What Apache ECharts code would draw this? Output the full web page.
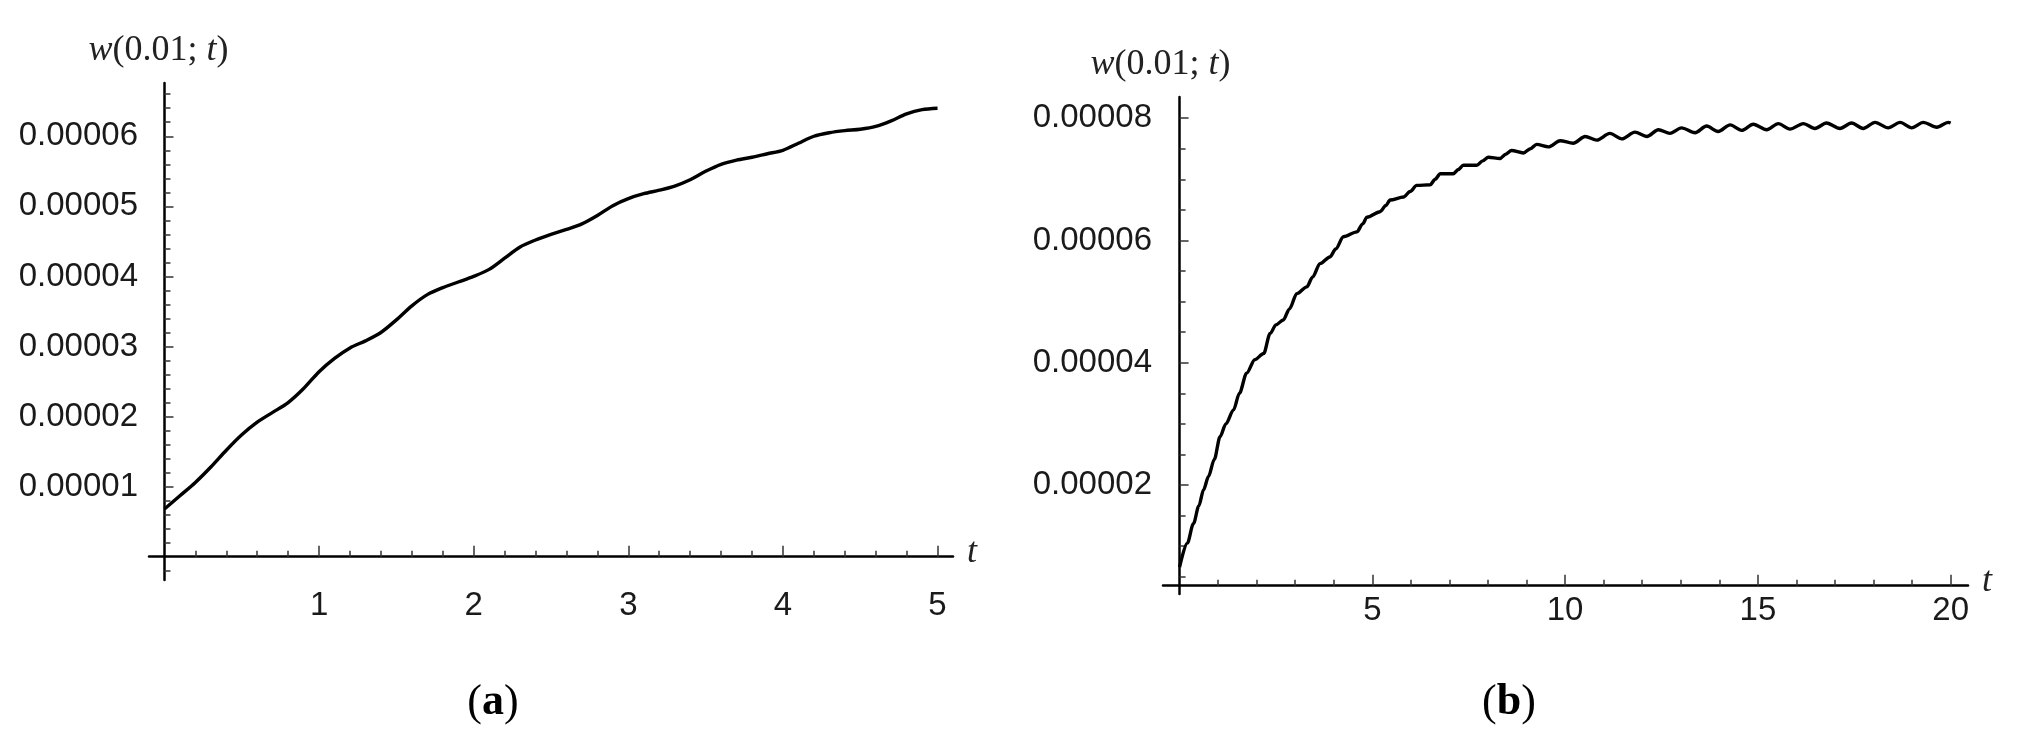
<!DOCTYPE html>
<html>
<head>
<meta charset="utf-8">
<script src="https://cdn.jsdelivr.net/npm/echarts@6/dist/echarts.min.js"></script>
<style>
html,body{margin:0;padding:0;background:#fff;}
#container{width:2032px;height:740px;}
</style>
</head>
<body>
<div id="container"></div>
<script>
// values of w are read in units of 1e-5
var W_UNIT = 1e-5;

// (a) t from 0 to 5
var tA = [0,0.1,0.2,0.3,0.4,0.5,0.6,0.7,0.8,0.9,1.0,1.1,1.2,1.3,1.4,1.5,1.6,1.7,1.8,1.9,2.0,
	2.1,2.2,2.3,2.4,2.5,2.6,2.7,2.8,2.9,3.0,3.1,3.2,3.3,3.4,3.5,3.6,3.7,3.8,3.9,4.0,
	4.1,4.2,4.3,4.4,4.5,4.6,4.7,4.8,4.9,5.0];
var wA = [0.68,0.87,1.06,1.28,1.52,1.74,1.92,2.06,2.20,2.40,2.64,2.83,2.98,3.08,3.20,3.38,3.58,3.74,3.84,3.92,4.00,
	4.10,4.26,4.42,4.52,4.60,4.67,4.75,4.87,5.01,5.11,5.18,5.23,5.29,5.38,5.50,5.60,5.66,5.70,5.75,5.80,
	5.90,6.00,6.05,6.08,6.10,6.14,6.22,6.32,6.38,6.40];

// (b) t from 0 to 20
var tB = [0,0.2,0.36,0.5,0.62,0.75,0.9,1.05,1.2,1.4,1.55,1.74,1.95,2.18,2.35,2.5,2.69,2.85,3.04,3.3,
	3.45,3.64,3.9,4.05,4.25,4.6,4.75,4.86,5.2,5.35,5.46,5.81,5.98,6.15,6.5,6.63,6.76,7.1,7.23,7.36,
	7.71,7.86,8.01,8.31,8.46,8.61,8.92,9.1,9.26,9.57,9.87,10.21,10.52,10.82,11.16,11.47,11.81,12.12,12.42,12.72,
	13.02,13.37,13.67,13.97,14.28,14.58,14.88,15.23,15.53,15.83,16.18,16.48,16.78,17.13,17.43,17.73,18.04,18.38,18.69,18.99,
	19.29,19.64,19.94,20.0];
var wB = [0.66,1.05,1.37,1.66,1.92,2.14,2.42,2.79,3.00,3.23,3.50,3.83,4.05,4.15,4.48,4.62,4.70,4.88,5.13,5.24,
	5.40,5.62,5.73,5.86,6.06,6.14,6.27,6.38,6.47,6.57,6.66,6.71,6.80,6.90,6.91,7.00,7.09,7.09,7.16,7.23,
	7.23,7.30,7.36,7.34,7.41,7.47,7.43,7.50,7.57,7.53,7.63,7.59,7.70,7.64,7.75,7.66,7.77,7.70,7.81,7.75,
	7.84,7.76,7.87,7.78,7.89,7.80,7.90,7.81,7.91,7.82,7.91,7.83,7.92,7.83,7.92,7.83,7.93,7.84,7.93,7.84,
	7.93,7.85,7.93,7.92];

// tick labels
var tTicksA = [1,2,3,4,5];
var wTicksA = [0.00001,0.00002,0.00003,0.00004,0.00005,0.00006];
var tTicksB = [5,10,15,20];
var wTicksB = [0.00002,0.00004,0.00006,0.00008];
var captions = ['a','b'];

function pairs(t, w) {
	var out = [];
	for (var i = 0; i < t.length; i++) out.push([t[i], w[i] * W_UNIT]);
	return out;
}

var labelFont = {fontFamily:'Liberation Sans', fontSize:33, color:'#1a1a1a'};
var nameRich = {
	i:{fontFamily:'Liberation Serif', fontStyle:'italic', fontSize:36, color:'#222'},
	n:{fontFamily:'Liberation Serif', fontSize:36, color:'#222'}
};

function xAxisOf(grid, min, max, ticks, onZero, offset) {
	return {
		type:'value', gridIndex:grid, min:min, max:max, minInterval:ticks[1]-ticks[0], maxInterval:ticks[1]-ticks[0],
		offset:offset,
		name:'{i|t}', nameLocation:'end', nameGap:14,
		nameTextStyle:{rich:nameRich, padding:[0,0,8,0]},
		axisLine:{onZero:onZero, lineStyle:{color:'#000', width:2.5}},
		axisTick:{inside:true, length:11, customValues:ticks, lineStyle:{color:'#333', width:1.5}},
		minorTick:{show:true, splitNumber:5, length:6, lineStyle:{color:'#333', width:1.5}},
		axisLabel:Object.assign({margin:9, customValues:ticks}, labelFont),
		splitLine:{show:false}
	};
}

function yAxisOf(grid, min, max, ticks, minorSplit, namePad) {
	return {
		type:'value', gridIndex:grid, min:min, max:max, minInterval:ticks[1]-ticks[0], maxInterval:ticks[1]-ticks[0],
		name:'{i|w}{n|(0.01; }{i|t}{n|)}', nameLocation:'end', nameGap:14,
		nameTextStyle:{rich:nameRich, padding:[0,namePad,0,0]},
		axisLine:{onZero:true, lineStyle:{color:'#000', width:2.5}},
		axisTick:{inside:true, length:9, customValues:ticks, lineStyle:{color:'#333', width:1.5}},
		minorTick:{show:true, splitNumber:minorSplit, length:6, lineStyle:{color:'#333', width:1.5}},
		axisLabel:Object.assign({margin:11, customValues:ticks, formatter:function(v){ return v.toFixed(5); }}, labelFont),
		splitLine:{show:false}
	};
}

var myChart = echarts.init(document.getElementById('container'));
myChart.setOption({
	animation:false,
	backgroundColor:'#fff',
	grid:[
		{left:149, top:83, width:804, height:497, outerBoundsMode:'none'},
		{left:1163, top:97, width:805, height:497, outerBoundsMode:'none'}
	],
	xAxis:[
		xAxisOf(0, -0.1, 5.1, tTicksA, true, 0),
		xAxisOf(1, -0.43, 20.45, tTicksB, false, -8.3)
	],
	yAxis:[
		yAxisOf(0, -0.332e-5, 6.76e-5, wTicksA, 5, 12),
		yAxisOf(1, 0.219e-5, 8.345e-5, wTicksB, 4, 38)
	],
	series:[
		{type:'line', xAxisIndex:0, yAxisIndex:0, data:pairs(tA, wA), showSymbol:false, symbol:'none',
			smooth:0.3, lineStyle:{color:'#000', width:3.4}},
		{type:'line', xAxisIndex:1, yAxisIndex:1, data:pairs(tB, wB), showSymbol:false, symbol:'none',
			smooth:0.3, smoothMonotone:'x', lineStyle:{color:'#000', width:3.4}}
	],
	graphic:[
		{type:'text', x:493, y:703, style:{text:'{p|(}{b|' + captions[0] + '}{p|)}', align:'center', verticalAlign:'middle',
			rich:{p:{fontFamily:'Liberation Serif', fontSize:44, fill:'#000'}, b:{fontFamily:'Liberation Serif', fontWeight:'bold', fontSize:44, fill:'#000'}}}},
		{type:'text', x:1509, y:703, style:{text:'{p|(}{b|' + captions[1] + '}{p|)}', align:'center', verticalAlign:'middle',
			rich:{p:{fontFamily:'Liberation Serif', fontSize:44, fill:'#000'}, b:{fontFamily:'Liberation Serif', fontWeight:'bold', fontSize:44, fill:'#000'}}}}
	]
});
</script>
</body>
</html>
